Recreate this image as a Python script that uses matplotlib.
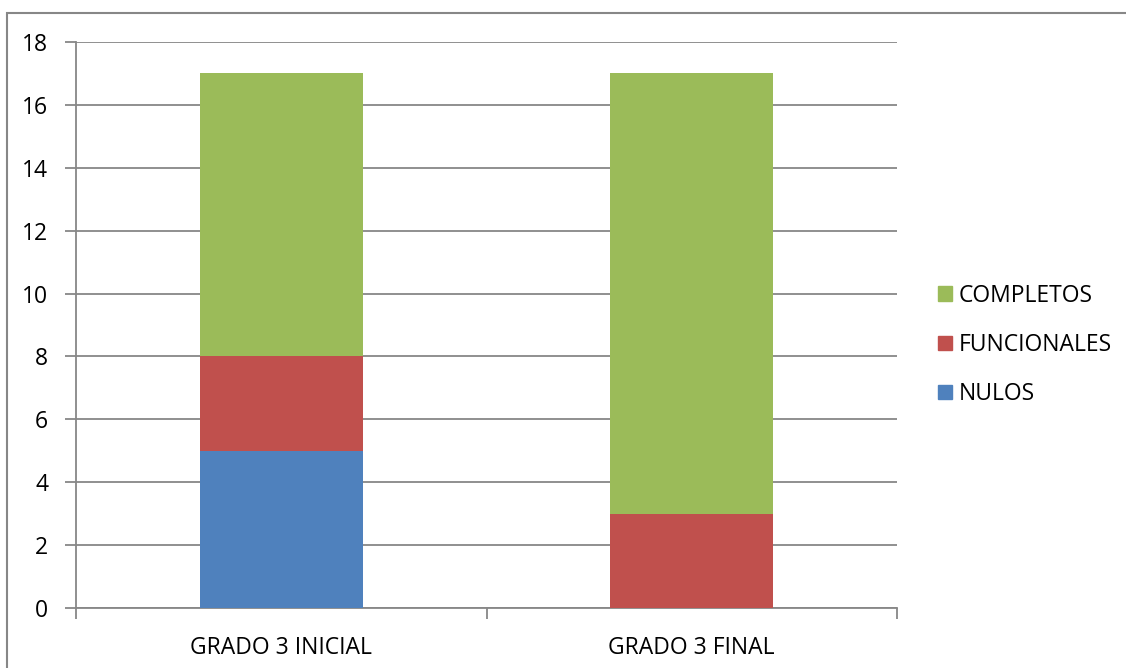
import matplotlib.pyplot as plt
from matplotlib.patches import Rectangle, Patch

categories = ['GRADO 3 INICIAL', 'GRADO 3 FINAL']
nulos = [5, 0]
funcionales = [3, 3]
completos = [9, 14]

colors = {'NULOS': '#4F81BD', 'FUNCIONALES': '#C0504D', 'COMPLETOS': '#9BBB59'}
plt.rcParams['font.family'] = ['Open Sans', 'DejaVu Sans']

W, H = 1126, 668
fig = plt.figure(figsize=(W / 100, H / 100), dpi=100)

# outer chart border (only top/left visible in the crop)
fig.patches.append(Rectangle((7 / W, -0.1), 1.2, 1 - 13 / H + 0.1, transform=fig.transFigure,
                             fill=False, edgecolor='#878787', linewidth=1.5))

ax = fig.add_axes([76 / W, 1 - 608 / H, (897 - 76) / W, (608 - 42) / H])
x = list(range(len(categories)))
w = 0.397
bottom2 = [a + b for a, b in zip(nulos, funcionales)]
ax.bar(x, nulos, w, color=colors['NULOS'], label='NULOS', zorder=3)
ax.bar(x, funcionales, w, bottom=nulos, color=colors['FUNCIONALES'], label='FUNCIONALES', zorder=3)
ax.bar(x, completos, w, bottom=bottom2, color=colors['COMPLETOS'], label='COMPLETOS', zorder=3)

ax.set_xlim(-0.5, len(categories) - 0.5)
ax.set_ylim(0, 18)
ax.set_yticks(range(0, 19, 2))
ax.yaxis.grid(True, color='#878787', linewidth=1.3, zorder=0)
for s in ['top', 'right']:
    ax.spines[s].set_visible(False)
for s in ['left', 'bottom']:
    ax.spines[s].set_color('#878787')
    ax.spines[s].set_linewidth(1.3)
ax.set_xticks(x)
ax.set_xticklabels(categories)
ax.set_xticks([-0.5, 0.5, 1.5], minor=True)
ax.tick_params(axis='x', which='major', length=0, pad=20, labelsize=16.5)
ax.tick_params(axis='x', which='minor', length=8, color='#878787', width=1.3)
ax.tick_params(axis='y', length=8, color='#878787', width=1.3, pad=12, labelsize=16.5)

handles = [Patch(color=colors[k]) for k in ['COMPLETOS', 'FUNCIONALES', 'NULOS']]
fig.legend(handles, ['COMPLETOS', 'FUNCIONALES', 'NULOS'], loc='center left',
           bbox_to_anchor=(938 / W, 1 - 345 / H), frameon=False, fontsize=16.5,
           handlelength=0.6, handleheight=0.6, handletextpad=0.3, labelspacing=1.1,
           borderpad=0, borderaxespad=0)

fig.savefig('out.png', dpi=100)
